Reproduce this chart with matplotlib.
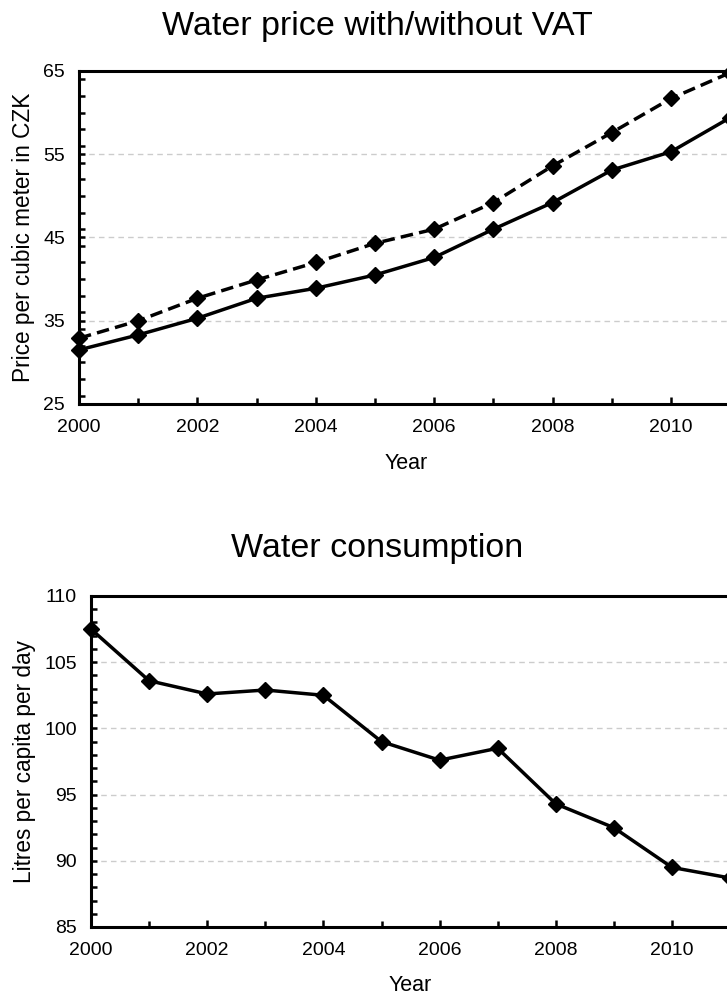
import matplotlib
matplotlib.use("Agg")
import matplotlib.pyplot as plt
from matplotlib.ticker import MultipleLocator, FixedLocator

plt.rcParams['font.family'] = ['Liberation Sans', 'DejaVu Sans']

years = [2000, 2001, 2002, 2003, 2004, 2005, 2006, 2007, 2008, 2009, 2010, 2011]
price_with_vat = [32.9, 35.0, 37.7, 39.9, 42.0, 44.3, 46.0, 49.2, 53.6, 57.6, 61.7, 64.8]
price_without_vat = [31.5, 33.3, 35.3, 37.7, 38.9, 40.5, 42.6, 46.0, 49.2, 53.1, 55.3, 59.4]
consumption = [107.5, 103.6, 102.6, 102.9, 102.5, 99.0, 97.6, 98.5, 94.3, 92.5, 89.5, 88.7]
year_ticks = [2000, 2002, 2004, 2006, 2008, 2010]
price_ticks = [25, 35, 45, 55, 65]
cons_ticks = [85, 90, 95, 100, 105, 110]

W, H = 727, 998
fig = plt.figure(figsize=(W / 100, H / 100), dpi=100)

def style_axes(ax, yticks, yminor):
    ax.set_xlim(2000, 2012)
    ax.set_ylim(yticks[0], yticks[-1])
    ax.set_xticks(year_ticks)
    ax.xaxis.set_minor_locator(FixedLocator(years))
    ax.set_yticks(yticks)
    ax.yaxis.set_minor_locator(MultipleLocator(yminor))
    ax.tick_params(axis='both', which='both', direction='in', width=1.8,
                   top=False, right=False, labelsize=14, colors='black')
    ax.tick_params(axis='x', which='major', length=5, pad=11)
    ax.tick_params(axis='x', which='minor', length=4)
    ax.tick_params(axis='y', which='major', length=4, pad=10)
    ax.tick_params(axis='y', which='minor', length=4)
    for s in ax.spines.values():
        s.set_linewidth(2.2)
    ax.grid(axis='y', which='major', color='#cccccc', linestyle=(0, (4, 3)), linewidth=1.0)
    ax.set_axisbelow(True)

# Top chart
w1 = 12 * 59.2
ax1 = fig.add_axes([79 / W, 1 - 404 / H, w1 / W, 333 / H])
ax1.plot(years, price_with_vat, color='black', linewidth=2.5, linestyle=(0, (3.6, 1.8)),
         marker='D', markersize=8.5, clip_on=False, zorder=3)
ax1.plot(years, price_without_vat, color='black', linewidth=2.5, linestyle='-',
         marker='D', markersize=8.5, clip_on=False, zorder=3)
style_axes(ax1, price_ticks, 2)
ax1.set_ylabel('Price per cubic meter in CZK', fontsize=16.3)
ax1.set_xlabel('Year', fontsize=15.5)
ax1.xaxis.set_label_coords((406 - 79) / w1, -(453 - 404) / 333)
ax1.yaxis.set_label_coords(-(79 - 35) / w1, 0.5)

# Bottom chart
w2 = 12 * 58.1
ax2 = fig.add_axes([91 / W, 1 - 927 / H, w2 / W, 331 / H])
ax2.plot(years, consumption, color='black', linewidth=2.5, linestyle='-',
         marker='D', markersize=8.5, clip_on=False, zorder=3)
style_axes(ax2, cons_ticks, 1)
ax2.set_ylabel('Litres per capita per day', fontsize=16.3)
ax2.set_xlabel('Year', fontsize=15.5)
ax2.xaxis.set_label_coords((410 - 91) / w2, -(975 - 927) / 331)
ax2.yaxis.set_label_coords(-(91 - 36) / w2, 0.5)

fig.text(377 / W, 1 - 26 / H, 'Water price with/without VAT', fontsize=24.5,
         ha='center', va='center')
fig.text(377 / W, 1 - 548 / H, 'Water consumption', fontsize=24.5,
         ha='center', va='center')

fig.savefig('out.png', dpi=100)
